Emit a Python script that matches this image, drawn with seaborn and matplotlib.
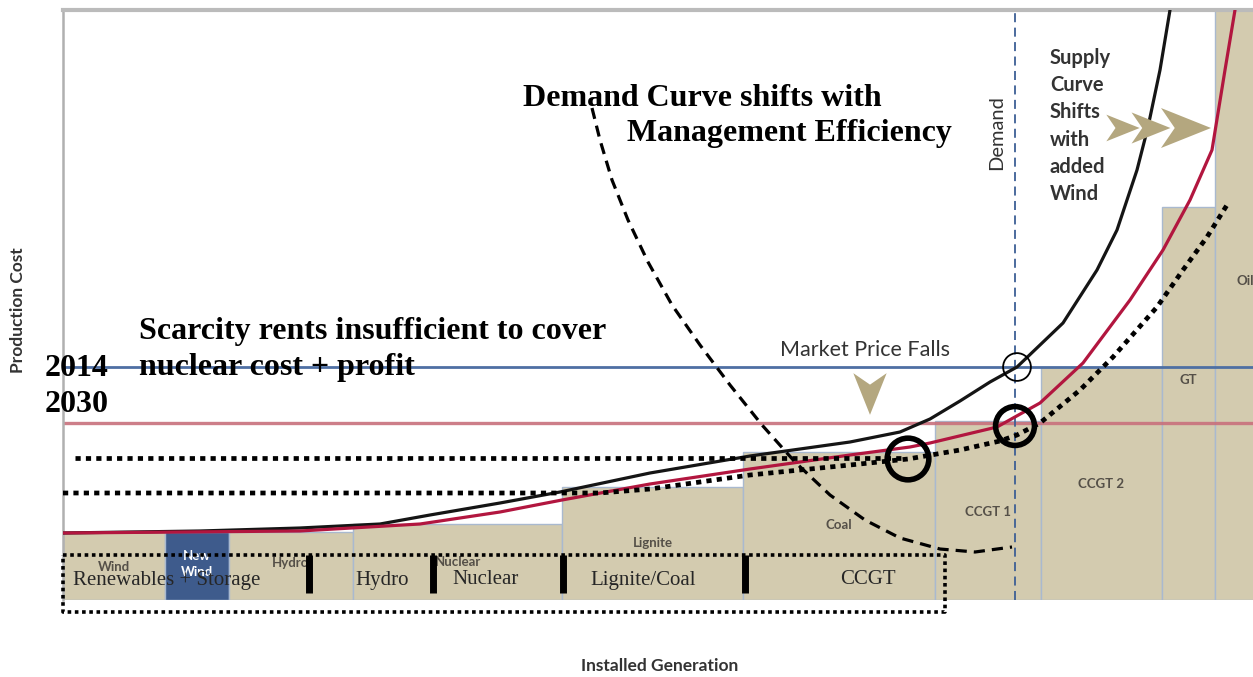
import numpy as np
import matplotlib
matplotlib.use("Agg")
import matplotlib.pyplot as plt
import seaborn as sns
import pandas as pd
from matplotlib.path import Path

# ── supply stack (x in installed-generation units, y in cost units) ──
plants      = ["Wind", "New\nWind", "Hydro", "Nuclear", "Lignite", "Coal",
               "CCGT 1", "CCGT 2", "GT", "Oil"]
plant_left  = [0, 102, 166, 290, 499, 680, 872, 978, 1099, 1152]
plant_width = [102, 64, 124, 209, 181, 192, 106, 121, 53, 60]
plant_cost  = [68, 68, 68, 76, 113, 148, 179, 233, 393, 600]
plant_label_y = [33, 36, 37, 38, 57, 75, 88, 116, 220, 319]

# supply curve 2014 (black) and 2030 (red)
s14_x = [0, 137, 237, 317, 367, 437, 497, 587, 687, 787, 837, 867, 897,
         927, 954, 1000, 1034, 1054, 1074, 1085, 1097, 1107]
s14_y = [67, 69, 72, 76, 85, 97, 108, 127, 144, 158, 168, 181, 199,
         218, 233, 277, 330, 370, 430, 473, 530, 590]
s30_x = [0, 237, 357, 437, 499, 587, 687, 787, 847, 867, 934, 977, 1020,
         1067, 1100, 1127, 1149, 1162, 1172]
s30_y = [67, 69, 76, 88, 100, 116, 131, 145, 153, 157, 173, 197, 237,
         300, 350, 400, 450, 530, 590]

# efficiency-adjusted supply (dotted)
eff_x = [0, 537, 587, 637, 687, 737, 787, 845, 897, 937, 954, 977, 1017,
         1050, 1094, 1120, 1144, 1164]
eff_y = [107, 107, 111, 118, 125, 130, 135, 141, 150, 159, 165, 177, 210,
         243, 293, 330, 363, 395]
eff_level_x = [12, 842]
eff_level_y = [142, 142]

# demand curve with management efficiency (dashed)
dem_x = [529, 537, 549, 565, 585, 609, 637, 667, 699, 732, 767, 802, 837,
         877, 912, 949]
dem_y = [492, 460, 420, 380, 338, 295, 255, 215, 175, 138, 105, 80, 62,
         51, 48, 53]

demand_x = 952
price_2014 = 233
price_2030 = 177

# circled intersections: (x, y, size, linewidth)
circ_x  = [954, 952, 845]
circ_y  = [233, 174, 141]
circ_s  = [20, 28, 30]
circ_lw = [1.3, 4.0, 4.0]

# chevron arrows
arrow_x = [1060, 1088, 1123, 807]
arrow_y = [472, 472, 472, 206]
arrow_s = [24, 28, 36, 30]

group_labels = ["Renewables + Storage", "Hydro", "Nuclear", "Lignite/Coal", "CCGT"]
group_x      = [10, 292, 389, 527, 777]
group_sep_x  = [246, 370, 500, 682]

TAN = "#D3CBAF"
NEWWIND = "#3E5B8C"
EDGE = "#A9B9CF"
BLACK = "#151515"
RED = "#B2163F"

sns.set_theme(style="white")
plt.rcParams["font.family"] = ["Liberation Serif", "DejaVu Serif"]

fig = plt.figure(figsize=(12.53, 6.77), dpi=100)
ax = fig.add_axes([63 / 1253, 77 / 677, 1190 / 1253, 590 / 677])
ax.set_xlim(0, 1190)
ax.set_ylim(0, 590)

# bars
colors = [NEWWIND if p.startswith("New") else TAN for p in plants]
ax.bar(plant_left, plant_cost, width=plant_width, align="edge",
       color=colors, edgecolor=EDGE, linewidth=1.0, zorder=1)
for name, l, w, ly in zip(plants, plant_left, plant_width, plant_label_y):
    ax.text(l + w / 2, ly, name, ha="center", va="center", fontsize=9.5,
            fontweight="bold", family="Lato",
            color="white" if name.startswith("New") else "#555048",
            linespacing=1.3, zorder=2)

# price levels
ax.axhline(price_2014, color="#4E6FA3", lw=2.0, zorder=2)
ax.axhline(price_2030, color="#C8707C", lw=2.4, alpha=0.9, zorder=2)
ax.axvline(demand_x, color="#3D5F95", lw=1.3, ls=(0, (5, 3)), zorder=2)

# curves
curves = pd.DataFrame({"x": s14_x, "y": s14_y})
sns.lineplot(data=curves, x="x", y="y", sort=False, color=BLACK, lw=2.3,
             ax=ax, zorder=4)
curves = pd.DataFrame({"x": s30_x, "y": s30_y})
sns.lineplot(data=curves, x="x", y="y", sort=False, color=RED, lw=2.3,
             ax=ax, zorder=4)
ax.plot(eff_x, eff_y, color="black", lw=3.4, ls=(0, (1.1, 1.1)), zorder=5)
ax.plot(eff_level_x, eff_level_y, color="black", lw=3.4, ls=(0, (1.1, 1.1)), zorder=5)
ax.plot(dem_x, dem_y, color="black", lw=2.3, ls=(0, (3.5, 2.2)), zorder=5)

for x, y, s, lw in zip(circ_x, circ_y, circ_s, circ_lw):
    ax.scatter([x], [y], s=s ** 2, facecolors="none", edgecolors="black",
               linewidths=lw, zorder=6)

# arrows
chevron = Path([(-1, 0.8), (1, 0), (-1, -0.8), (-0.45, 0), (-1, 0.8)],
               [Path.MOVETO, Path.LINETO, Path.LINETO, Path.LINETO, Path.CLOSEPOLY])
down = Path([(-0.8, 1), (0, -1), (0.8, 1), (0, 0.45), (-0.8, 1)],
            [Path.MOVETO, Path.LINETO, Path.LINETO, Path.LINETO, Path.CLOSEPOLY])
for i, (x, y, s) in enumerate(zip(arrow_x, arrow_y, arrow_s)):
    ax.scatter([x], [y], s=s ** 2, marker=down if i == 3 else chevron,
               color="#B4A77F", edgecolors="none", zorder=6)

# bottom grouping
for x in group_sep_x:
    ax.plot([x, x], [7, 45], color="black", lw=5, solid_capstyle="butt", zorder=7)
for lab, x in zip(group_labels, group_x):
    ax.text(x, 20, lab, fontsize=15, va="center", ha="left", zorder=8)
box_x = [0, 882, 882, 0, 0]
box_y = [45, 45, -12, -12, 45]
ax.plot(box_x, box_y, color="black", lw=2.6, ls=(0, (1, 1)), clip_on=False, zorder=8)

# annotations
bold = dict(fontsize=23, fontweight="bold", color="black", zorder=9)
ax.text(460, 502, "Demand Curve shifts with", ha="left", va="center", **bold)
ax.text(564, 467, "Management Efficiency", ha="left", va="center", **bold)
ax.text(76, 269, "Scarcity rents insufficient to cover", ha="left", va="center", **bold)
ax.text(76, 232, "nuclear cost + profit", ha="left", va="center", **bold)
ax.text(-18, 232, "2014", ha="left", va="center", clip_on=False, **bold)
ax.text(-18, 196, "2030", ha="left", va="center", clip_on=False, **bold)

sans = dict(family="Lato", color="#333333")
ax.text(802, 250, "Market Price Falls", ha="center", va="center", fontsize=15.5, **sans)
ax.text(934, 467, "Demand", rotation=90, ha="center", va="center", fontsize=14.5,
        zorder=6, bbox=dict(fc="white", ec="none", pad=1), **sans)
ax.text(987, 552, "Supply\nCurve\nShifts\nwith\nadded\nWind", ha="left", va="top",
        fontsize=14.5, fontweight="bold", linespacing=1.45, **sans)

fig.text(18 / 1253, 1 - 310 / 677, "Production Cost", rotation=90, ha="center",
         va="center", fontsize=12.5, fontweight="bold", **sans)
fig.text(660 / 1253, 1 - 666 / 677, "Installed Generation", ha="center",
         va="center", fontsize=12.5, fontweight="bold", **sans)

# frame
for side in ["right", "bottom"]:
    ax.spines[side].set_visible(False)
ax.spines["left"].set_color("#B0B0B0")
ax.spines["left"].set_linewidth(1.8)
ax.spines["top"].set_color("#BBBBBB")
ax.spines["top"].set_linewidth(3)
ax.set_xticks([])
ax.set_yticks([])
ax.set_xlabel("")
ax.set_ylabel("")

fig.savefig("out.png", dpi=100)
